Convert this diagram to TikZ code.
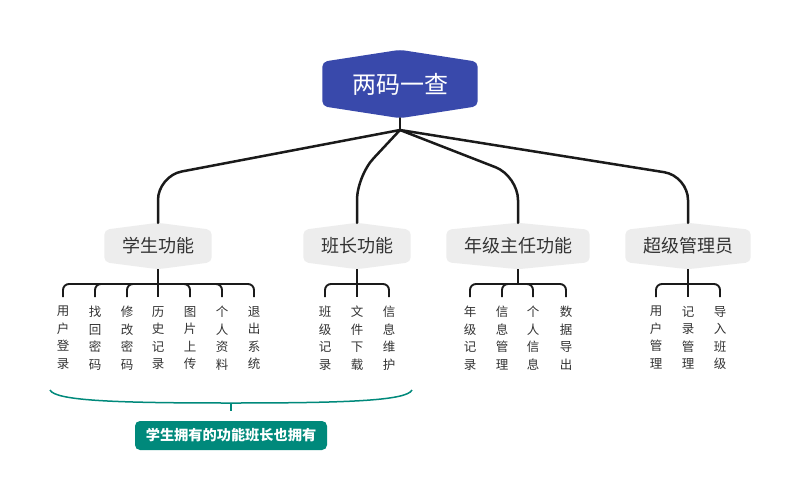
\documentclass[tikz,border=0pt]{standalone}
\usepackage{fontspec}
\setmainfont{Noto Sans CJK SC}
\usetikzlibrary{positioning, calc, backgrounds}
\definecolor{rootblue}{RGB}{57, 73, 171}
\definecolor{topicgray}{RGB}{237, 237, 237}
\definecolor{inkgray}{RGB}{51, 51, 51}
\definecolor{noteteal}{RGB}{0, 137, 123}
\definecolor{linedark}{RGB}{26, 26, 26}

\tikzset{
  topic/.style={minimum height=32pt, inner xsep=17.5pt, inner ysep=0pt, font=\fontsize{18}{20}\selectfont, text=inkgray},
  leaf/.style={anchor=north, align=center, inner xsep=0pt, inner ysep=9pt, font=\fontsize{12.5}{17.5}\selectfont, text=inkgray},
  trunk/.style={draw=linedark, line width=2.5pt, line cap=round, rounded corners=24pt},
  twig/.style={draw=linedark, line width=1.9pt, rounded corners=6pt},
}
\newcommand\hexfill[3]{\fill[#3, rounded corners=5pt] (#1.north west) -- ([yshift=#2]#1.north) -- (#1.north east) -- (#1.south east) -- ([yshift=-#2]#1.south) -- (#1.south west) -- cycle;}

\begin{document}
\begin{tikzpicture}[x=1pt, y=-1pt]
  \useasboundingbox (0,0) rectangle (801,501);

  \node[minimum width=155pt, minimum height=44pt, inner sep=0pt, font=\fontsize{24}{26}\selectfont, text=white] (root) at (400,84) {两码一查};
  \node[topic] (stu) at (158,246) {学生功能};
  \node[topic] (mon) at (357,246) {班长功能};
  \node[topic] (grd) at (518,246) {年级主任功能};
  \node[topic] (adm) at (688,246) {超级管理员};

  \coordinate (hub) at (400,130);
  \coordinate (bend) at (0,176);
  \coordinate (fork) at (0,284);
  \draw[trunk] ([yshift=-12pt]root.south) -- (hub);
  \foreach \t in {stu, mon, grd, adm}
    \draw[trunk] (hub) -- (\t |- bend) -- ([yshift=7pt]\t.north);

  % leaves
  \foreach \x/\t [count=\i] in {63/用\\户\\登\\录, 95/找\\回\\密\\码, 127/修\\改\\密\\码, 158/历\\史\\记\\录, 190/图\\片\\上\\传, 222/个\\人\\资\\料, 254/退\\出\\系\\统}
    \node[leaf] (s\i) at (\x,297) {\t};
  \foreach \x/\t [count=\i] in {325/班\\级\\记\\录, 357/文\\件\\下\\载, 389/信\\息\\维\\护}
    \node[leaf] (m\i) at (\x,297) {\t};
  \foreach \x/\t [count=\i] in {470/年\\级\\记\\录, 502/信\\息\\管\\理, 533/个\\人\\信\\息, 566/数\\据\\导\\出}
    \node[leaf] (g\i) at (\x,297) {\t};
  \foreach \x/\t [count=\i] in {656/用\\户\\管\\理, 688/记\\录\\管\\理, 720/导\\入\\班\\级}
    \node[leaf] (a\i) at (\x,297) {\t};

  \foreach \p/\c/\n in {stu/s/7, mon/m/3, grd/g/4, adm/a/3} {
    \draw[twig] ([yshift=-7pt]\p.south) -- (\p |- fork);
    \foreach \i in {1,...,\n}
      \draw[twig] (\p |- fork) -| (\c\i.north);
  }

  % note under the student and monitor leaves
  \node[fill=noteteal, text=white, rounded corners=5pt, minimum width=192pt, minimum height=29pt, font=\fontsize{14.2}{16}\selectfont\bfseries] (note) at (231,435.5) {学生拥有的功能班长也拥有};
  \coordinate (braceL) at (50,390);
  \coordinate (braceR) at (412,390);
  \coordinate (braceM) at (231,403);
  \draw[noteteal, line width=1.5pt] (braceL) .. controls (55,401) and (120,403) .. (braceM) .. controls (342,403) and (407,401) .. (braceR);
  \draw[noteteal, line width=1.5pt] (braceM) -- ([yshift=10pt]note.north);

  \begin{scope}[on background layer]
    \fill[white] (0,0) rectangle (801,501);
    \hexfill{root}{12pt}{rootblue}
    \foreach \t in {stu, mon, grd, adm} {\hexfill{\t}{7pt}{topicgray}}
  \end{scope}
\end{tikzpicture}
\end{document}
